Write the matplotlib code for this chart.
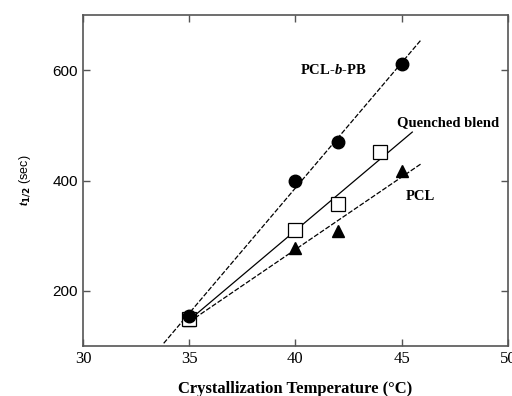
import numpy as np
import matplotlib
matplotlib.use("Agg")
import matplotlib.pyplot as plt

# crystallization temperature (C) and half-time (sec)
temp_pb = [35, 40, 42, 45]
t_pb = [155, 400, 470, 612]

temp_blend = [35, 40, 42, 44]
t_blend = [150, 311, 358, 451]

temp_pcl = [35, 40, 42, 45]
t_pcl = [148, 278, 309, 418]

plt.rcParams['mathtext.fontset'] = 'custom'
plt.rcParams['mathtext.bfit'] = 'Liberation Serif:italic:bold'

fig = plt.figure(figsize=(5.12, 3.96), dpi=100)
ax = fig.add_axes([0.162, 0.126, 0.830, 0.836])

# linear fits
def fit_line(x, y, x0, x1, style):
    k, b = np.polyfit(x, y, 1)
    xs = np.array([x0, x1])
    ax.plot(xs, k * xs + b, color='black', lw=0.9, ls=style, zorder=2)

fit_line(temp_pb, t_pb, 33.8, 45.9, (0, (4, 1.5)))
fit_line(temp_blend, t_blend, 35, 45.5, '-')
fit_line(temp_pcl, t_pcl, 35, 45.9, (0, (4, 1.5)))

ax.plot(temp_pcl, t_pcl, '^', color='black', ms=8, zorder=3)
ax.plot(temp_blend, t_blend, 's', mfc='white', mec='black', mew=0.9, ms=9.5, zorder=3)
ax.plot(temp_pb, t_pb, 'o', color='black', ms=9, zorder=4)

ax.set_xlim(30, 50)
ax.set_ylim(100, 700)
ax.set_xticks([30, 35, 40, 45, 50])
ax.set_yticks([200, 400, 600])
ax.tick_params(direction='in', length=5, width=1, color='#555555',
               top=True, right=True, labelsize=11)
for lab in ax.get_xticklabels():
    lab.set_family('Liberation Serif')
    lab.set_fontsize(12)
for lab in ax.get_yticklabels():
    lab.set_family('Liberation Sans')
for s in ax.spines.values():
    s.set_color('#555555')
    s.set_linewidth(1.2)

serif = 'Liberation Serif'
ax.text(41.8, 600, r'PCL-$\mathbfit{b}$-PB', family=serif, fontweight='bold',
        fontsize=10.5, ha='center', va='center')
ax.text(47.2, 505, 'Quenched blend', family=serif, fontweight='bold',
        fontsize=10.5, ha='center', va='center')
ax.text(45.9, 372, 'PCL', family=serif, fontweight='bold',
        fontsize=10.5, ha='center', va='center')

ax.set_xlabel('Crystallization Temperature (\u00b0C)', family=serif,
              fontweight='bold', fontsize=12, labelpad=10)
ax.set_ylabel(r'$\mathbfit{t}_{\mathbf{1/2}}$ (sec)', family='Liberation Sans',
              fontsize=9, labelpad=14)

fig.savefig('out.png', dpi=100)
